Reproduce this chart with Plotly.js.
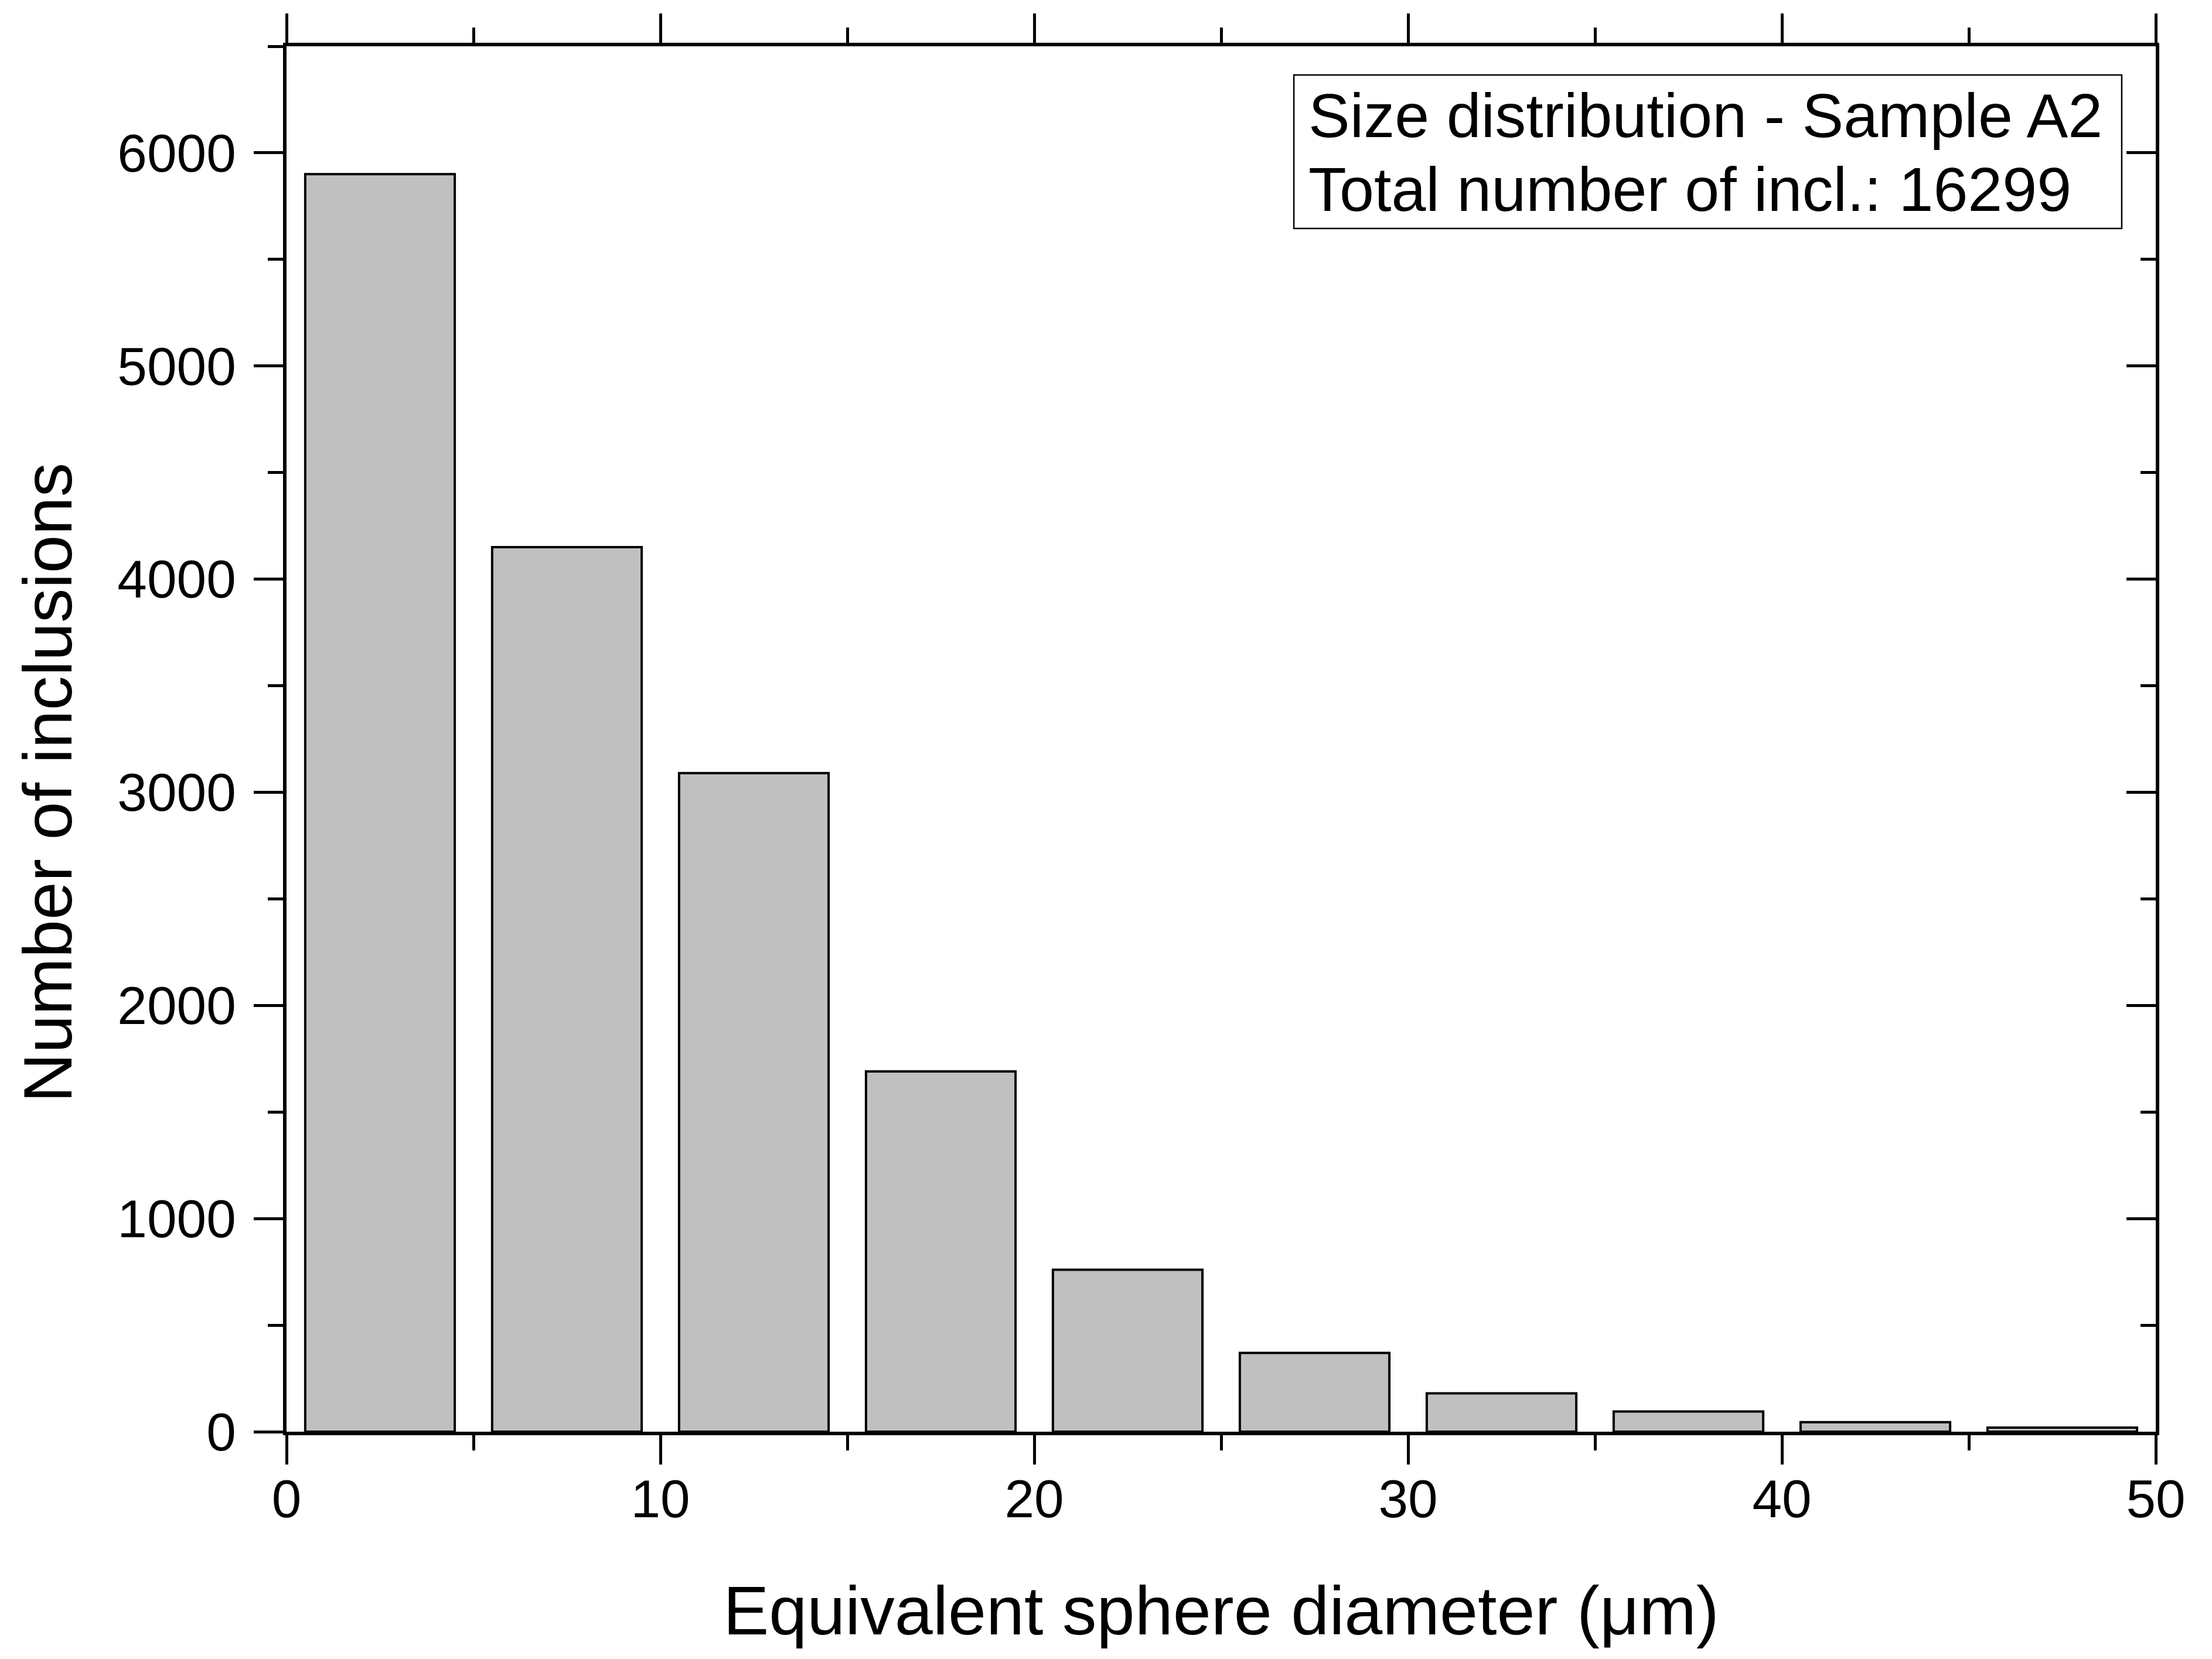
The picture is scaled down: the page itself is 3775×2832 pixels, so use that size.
<!DOCTYPE html>
<html>
<head>
<meta charset="utf-8">
<script src="https://cdn.plot.ly/plotly-3.0.1.min.js"></script>
<style>
  html, body { margin: 0; padding: 0; background: #ffffff; }
  #chart { width: 3775px; height: 2832px; }
</style>
</head>
<body>
<div id="chart"></div>
<script>
// ---- data ----
const binCenters = [2.5, 7.5, 12.5, 17.5, 22.5, 27.5, 32.5, 37.5, 42.5, 47.5];   // µm
const binCounts  = [5900, 4150, 3090, 1690, 760, 370, 180, 95, 45, 19];
const binWidth = 4;
const xTickVals = [0, 10, 20, 30, 40, 50];
const yTickVals = [0, 1000, 2000, 3000, 4000, 5000, 6000];
const infoLines = ['Size distribution - Sample A2', 'Total number of incl.: 16299'];
const xTitle = 'Equivalent sphere diameter (\u03bcm)';
const yTitle = 'Number of inclusions';

const FONT = 'Liberation Sans, Arial, Helvetica, sans-serif';
const tickFont = { family: FONT, size: 91, color: '#000' };

const bars = {
  type: 'bar',
  x: binCenters,
  y: binCounts,
  width: binWidth,
  marker: { color: '#c0c0c0', line: { color: '#000000', width: 4 } },
  hoverinfo: 'skip',
  showlegend: false
};

// empty trace so that the mirrored (top / right) frame axes are drawn
const frameTrace = {
  type: 'scatter', mode: 'markers', x: [], y: [],
  xaxis: 'x2', yaxis: 'y2', showlegend: false, hoverinfo: 'skip'
};

const common = {
  showgrid: false,
  zeroline: false,
  showline: true,
  linecolor: '#000',
  linewidth: 6,
  tickcolor: '#000',
  tickwidth: 5,
  ticklen: 50,
  automargin: false
};
const minorOut = { ticks: 'outside', ticklen: 26, tickwidth: 5, tickcolor: '#000', showgrid: false };
const minorIn  = { ticks: 'inside',  ticklen: 26, tickwidth: 5, tickcolor: '#000', showgrid: false };

const infoAnnotations = infoLines.map((t, i) => ({
  xref: 'paper', yref: 'paper',
  x: 0.546, y: i === 0 ? 0.950 : 0.897,
  xanchor: 'left', yanchor: 'middle',
  text: t, showarrow: false,
  font: { family: FONT, size: 106, color: '#000' }
}));

const yTitleAnnotation = {
  xref: 'paper', yref: 'paper',
  x: -0.1275, y: 0.4685,
  xanchor: 'center', yanchor: 'middle',
  textangle: -90,
  text: yTitle, showarrow: false,
  font: { family: FONT, size: 117, color: '#000' }
};

const layout = {
  width: 3775,
  height: 2832,
  paper_bgcolor: '#ffffff',
  plot_bgcolor: '#ffffff',
  margin: { l: 489, r: 96, t: 79, b: 388, pad: 0 },
  font: { family: FONT, color: '#000' },
  showlegend: false,
  xaxis: Object.assign({}, common, {
    range: [0, 50],
    tickmode: 'array',
    tickvals: xTickVals,
    ticktext: xTickVals.map(String),
    ticks: 'outside',
    tickfont: tickFont,
    ticklabelstandoff: -19,
    minor: Object.assign({ dtick: 5, tick0: 0 }, minorOut),
    title: { text: xTitle, font: { family: FONT, size: 117, color: '#000' }, standoff: 102 }
  }),
  xaxis2: Object.assign({}, common, {
    overlaying: 'x',
    side: 'top',
    anchor: 'y2',
    range: [0, 50],
    tickmode: 'array',
    tickvals: xTickVals,
    ticks: 'outside',
    showticklabels: false,
    minor: Object.assign({ dtick: 5, tick0: 0 }, minorOut)
  }),
  yaxis: Object.assign({}, common, {
    range: [0, 6500],
    tickmode: 'array',
    tickvals: yTickVals,
    ticktext: yTickVals.map(String),
    ticks: 'outside',
    tickfont: tickFont,
    ticklabelstandoff: 12,
    minor: Object.assign({ dtick: 500, tick0: 0 }, minorOut)
  }),
  yaxis2: Object.assign({}, common, {
    overlaying: 'y',
    side: 'right',
    anchor: 'x2',
    range: [0, 6500],
    tickmode: 'array',
    tickvals: yTickVals,
    ticks: 'inside',
    showticklabels: false,
    minor: Object.assign({ dtick: 500, tick0: 0 }, minorIn)
  }),
  shapes: [{
    type: 'rect', xref: 'paper', yref: 'paper',
    x0: 0.5389, x1: 0.9818, y0: 0.8685, y1: 0.9793,
    line: { color: '#000', width: 2.5 }, fillcolor: 'rgba(0,0,0,0)'
  }],
  annotations: infoAnnotations.concat([yTitleAnnotation])
};

Plotly.newPlot('chart', [bars, frameTrace], layout, { staticPlot: true, displayModeBar: false });
</script>
</body>
</html>
